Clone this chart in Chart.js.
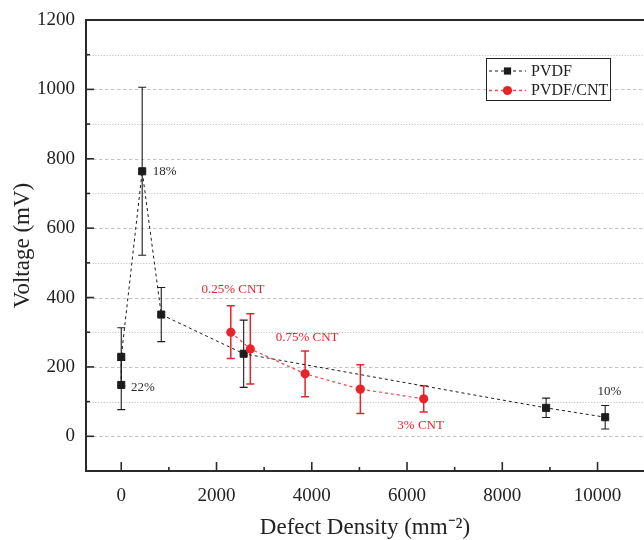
<!DOCTYPE html>
<html>
<head>
<meta charset="utf-8">
<script src="https://cdn.jsdelivr.net/npm/chart.js@4/dist/chart.umd.min.js"></script>
<style>
html,body{margin:0;padding:0;background:#fff;overflow:hidden;width:644px;height:540px;}
#wrap{width:644px;height:540px;position:relative;overflow:hidden;}
#c{display:block;}
</style>
</head>
<body>
<div id="wrap"><canvas id="c" width="644" height="540"></canvas></div>
<script>
// ---- data ----
const pvdfDensity = [0, 0, 440, 840, 2570, 8920, 10160];
const pvdfVoltage = [148, 229, 764, 351, 238, 82, 55];
const pvdfError   = [71, 84, 242, 78, 97, 28, 34];

const cntDensity = [2300, 2710, 3860, 5020, 6350];
const cntVoltage = [300, 252, 180, 136, 108];
const cntError   = [76, 101, 66, 70, 38];

const xTickValues = [0, 2000, 4000, 6000, 8000, 10000];
const yTickValues = [0, 200, 400, 600, 800, 1000, 1200];

const noteTexts  = ['18%', '22%', '10%', '0.25% CNT', '0.75% CNT', '3% CNT'];
const noteX      = [660, 205, 10247, 2345, 3901, 6285];
const noteY      = [764, 141, 128.6, 421.7, 284, 30.6];
const noteSeries = [0, 0, 0, 1, 1, 1];

// ---- styles ----
const FONT = '"Liberation Serif", "Times New Roman", serif';
const BLACK = '#1c1c1c';
const RED = '#e8242b';
const RED_LINE = '#ef4a50';

const errors = [pvdfError, cntError];
const noteAlign = ['left', 'left', 'center', 'center', 'center', 'center'];

const gridPlugin = {
  id: 'gridPlugin',
  beforeDatasetsDraw(chart) {
    const {ctx, chartArea: a, scales: {x, y}} = chart;
    ctx.save();
    ctx.lineWidth = 1;
    ctx.strokeStyle = '#c4c4c4';
    for (let v = 0; v <= 1100; v += 100) {
      const py = Math.round(y.getPixelForValue(v)) + 0.5;
      ctx.setLineDash(v % 200 === 0 ? [3.5, 2.5] : [1.2, 1.6]);
      ctx.beginPath();
      ctx.moveTo(a.left + 1, py);
      ctx.lineTo(a.right, py);
      ctx.stroke();
    }
    ctx.setLineDash([]);
    ctx.restore();
  },
  afterDatasetsDraw(chart) {
    const {ctx, chartArea: a, scales: {x, y}} = chart;
    ctx.save();
    ctx.strokeStyle = '#2a2a2a';
    // top frame
    ctx.lineWidth = 2;
    ctx.beginPath();
    ctx.moveTo(a.left - 1, a.top);
    ctx.lineTo(a.right, a.top);
    ctx.stroke();
    // inward ticks
    ctx.lineWidth = 1.6;
    for (let v = 0; v <= 1100; v += 100) {
      const py = y.getPixelForValue(v);
      const len = v % 200 === 0 ? 8 : 4;
      ctx.beginPath();
      ctx.moveTo(a.left, py);
      ctx.lineTo(a.left + len, py);
      ctx.stroke();
    }
    for (let v = 0; v <= 10000; v += 1000) {
      const px = x.getPixelForValue(v);
      const len = v % 2000 === 0 ? 9 : 4;
      ctx.beginPath();
      ctx.moveTo(px, a.bottom);
      ctx.lineTo(px, a.bottom - len);
      ctx.stroke();
    }
    ctx.restore();
  }
};

const errorBarPlugin = {
  id: 'errorBarPlugin',
  beforeDatasetsDraw(chart) {
    const {ctx, scales: {x, y}} = chart;
    ctx.save();
    chart.data.datasets.forEach((ds) => {
      const err = errors[ds.seriesIndex];
      ctx.strokeStyle = ds.seriesIndex === 0 ? BLACK : RED;
      ctx.lineWidth = ds.seriesIndex === 0 ? 1.1 : 1.5;
      ds.data.forEach((p, j) => {
        const px = x.getPixelForValue(p.x);
        const top = y.getPixelForValue(p.y + err[j]);
        const bot = y.getPixelForValue(p.y - err[j]);
        ctx.beginPath();
        ctx.moveTo(px, top); ctx.lineTo(px, bot);
        ctx.moveTo(px - 4, top); ctx.lineTo(px + 4, top);
        ctx.moveTo(px - 4, bot); ctx.lineTo(px + 4, bot);
        ctx.stroke();
      });
    });
    ctx.restore();
  }
};

const notePlugin = {
  id: 'notePlugin',
  afterDatasetsDraw(chart) {
    const {ctx, scales: {x, y}} = chart;
    ctx.save();
    ctx.font = '13px ' + FONT;
    ctx.textBaseline = 'middle';
    noteTexts.forEach((t, i) => {
      ctx.fillStyle = noteSeries[i] === 0 ? '#2a2a2a' : RED;
      ctx.textAlign = noteAlign[i];
      ctx.fillText(t, x.getPixelForValue(noteX[i]), y.getPixelForValue(noteY[i]));
    });
    ctx.restore();
  }
};

const legendPlugin = {
  id: 'legendPlugin',
  afterDraw(chart) {
    const {ctx} = chart;
    const bx = 486.5, by = 58.5, bw = 124, bh = 42;
    ctx.save();
    ctx.fillStyle = '#fff';
    ctx.fillRect(bx, by, bw, bh);
    ctx.strokeStyle = '#222';
    ctx.lineWidth = 1;
    ctx.strokeRect(bx, by, bw, bh);
    const rows = [71, 90.5];
    chart.data.datasets.slice().sort((a, b) => a.seriesIndex - b.seriesIndex).forEach((ds, k) => {
      const ry = rows[k];
      ctx.strokeStyle = ds.borderColor;
      ctx.lineWidth = ds.seriesIndex === 0 ? 1 : 1.5;
      ctx.setLineDash([3, 3]);
      ctx.beginPath();
      ctx.moveTo(489, ry); ctx.lineTo(526, ry);
      ctx.stroke();
      ctx.setLineDash([]);
      ctx.fillStyle = ds.pointBackgroundColor;
      if (ds.pointStyle === 'rect') {
        ctx.fillRect(507.5 - 3.6, ry - 3.6, 7.2, 7.2);
      } else {
        ctx.beginPath();
        ctx.arc(507.5, ry, 4.6, 0, Math.PI * 2);
        ctx.fill();
      }
      ctx.fillStyle = '#222';
      ctx.font = '16px ' + FONT;
      ctx.textBaseline = 'middle';
      ctx.textAlign = 'left';
      ctx.fillText(ds.label, 531, ry + 0.5);
    });
    ctx.restore();
  }
};

const toPoints = (xs, ys) => xs.map((v, i) => ({x: v, y: ys[i]}));

new Chart(document.getElementById('c'), {
  type: 'scatter',
  data: {
    datasets: [
      {
        label: 'PVDF/CNT',
        seriesIndex: 1,
        order: 0,
        data: toPoints(cntDensity, cntVoltage),
        showLine: true,
        borderColor: RED_LINE,
        borderWidth: 1.2,
        borderDash: [3, 3],
        pointStyle: 'circle',
        pointRadius: 4.6,
        pointBorderWidth: 0,
        pointBackgroundColor: RED,
        pointBorderColor: RED,
        tension: 0
      },
      {
        label: 'PVDF',
        seriesIndex: 0,
        order: 1,
        data: toPoints(pvdfDensity, pvdfVoltage),
        showLine: true,
        borderColor: BLACK,
        borderWidth: 1,
        borderDash: [3, 3],
        pointStyle: 'rect',
        pointRadius: 5,
        pointBorderWidth: 1,
        pointBackgroundColor: BLACK,
        pointBorderColor: BLACK,
        tension: 0
      }
    ]
  },
  options: {
    responsive: false,
    animation: false,
    devicePixelRatio: 1,
    events: [],
    layout: {autoPadding: false, padding: {top: 20, right: 0, bottom: 0, left: 0}},
    plugins: {legend: {display: false}, tooltip: {enabled: false}},
    scales: {
      x: {
        type: 'linear',
        min: -740,
        max: 10975,
        afterBuildTicks: s => { s.ticks = xTickValues.map(v => ({value: v})); },
        afterFit: s => { s.height = 69; s.paddingLeft = 0; s.paddingRight = 0; },
        grid: {display: false, drawTicks: false},
        border: {display: true, color: '#2a2a2a', width: 2},
        ticks: {
          font: {family: FONT, size: 19},
          color: '#222',
          padding: 14,
          maxRotation: 0,
          callback: v => String(v)
        },
        title: {
          display: true,
          text: 'Defect Density (mm\u207B\u00B2)',
          font: {family: FONT, size: 23},
          color: '#222',
          padding: {top: 0, bottom: -2}
        }
      },
      y: {
        type: 'linear',
        min: -100,
        max: 1200,
        afterBuildTicks: s => { s.ticks = yTickValues.map(v => ({value: v})); },
        afterFit: s => { s.width = 86; s.paddingTop = 0; s.paddingBottom = 0; },
        grid: {display: false, drawTicks: false},
        border: {display: true, color: '#2a2a2a', width: 2},
        ticks: {
          font: {family: FONT, size: 19},
          color: '#222',
          padding: 11,
          callback: v => String(v)
        },
        title: {
          display: true,
          text: 'Voltage (mV)',
          font: {family: FONT, size: 23},
          color: '#222',
          padding: {top: 9, bottom: 0}
        }
      }
    }
  },
  plugins: [gridPlugin, errorBarPlugin, notePlugin, legendPlugin]
});
</script>
</body>
</html>
